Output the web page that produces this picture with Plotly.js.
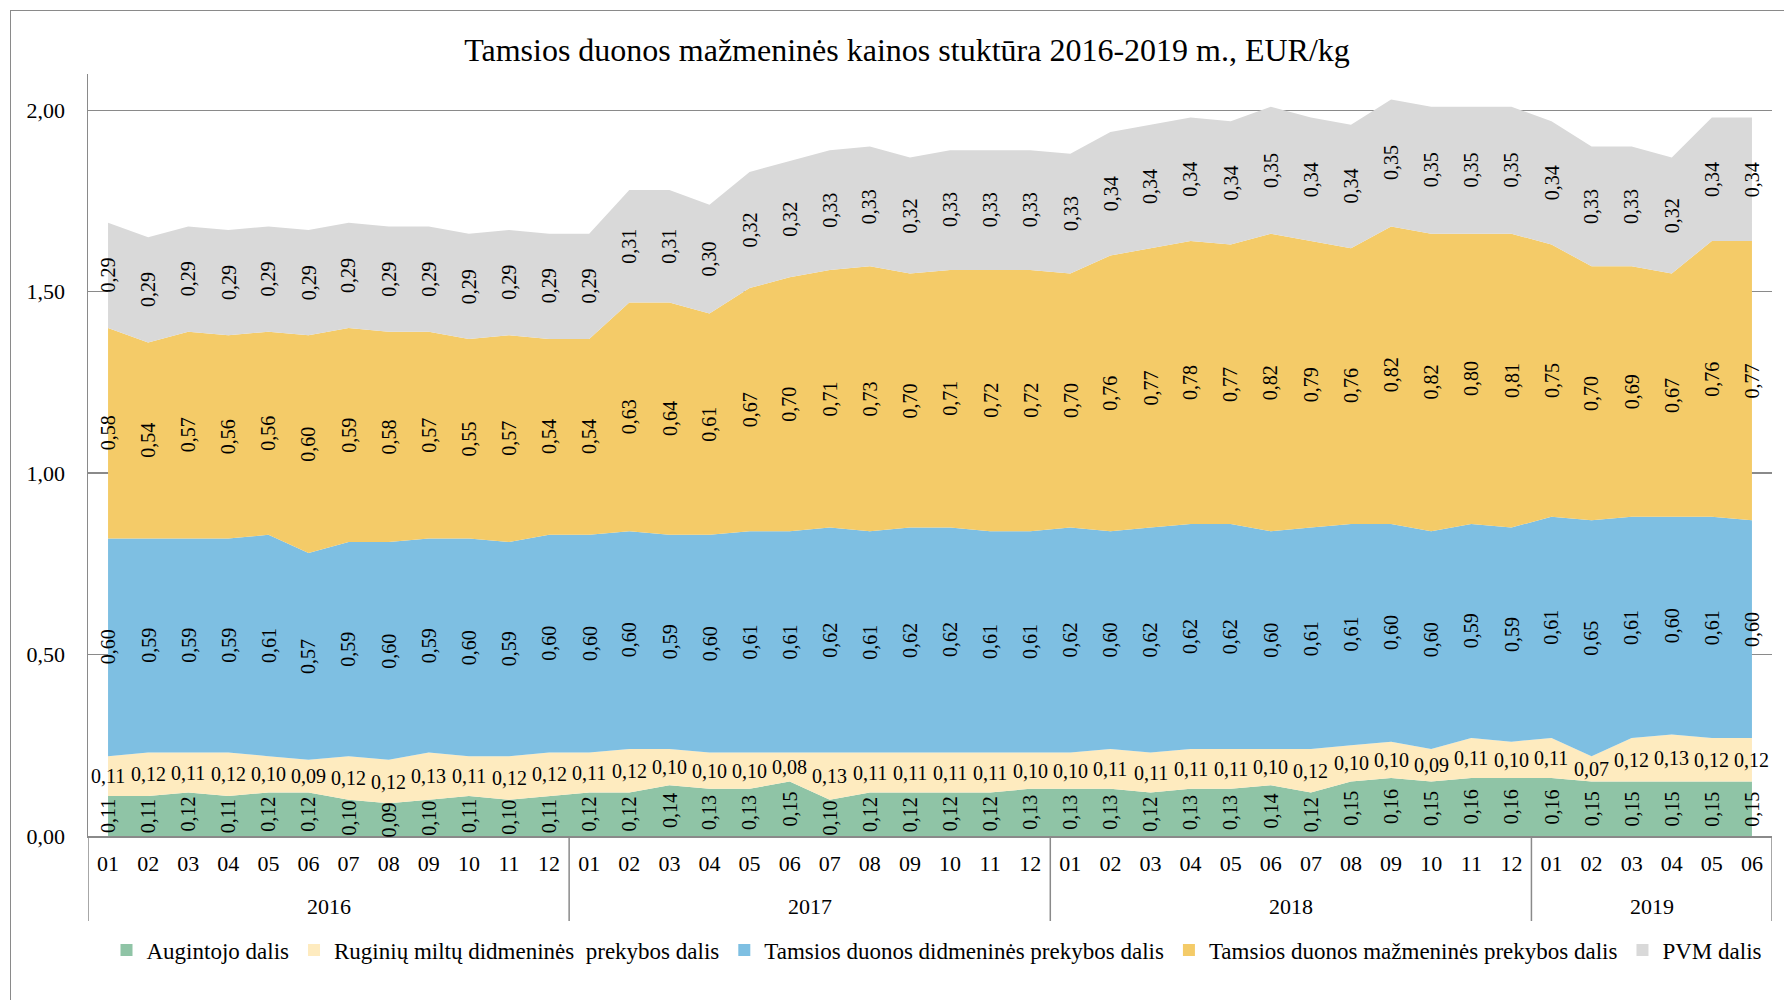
<!DOCTYPE html>
<html><head><meta charset="utf-8">
<script src="https://cdn.plot.ly/plotly-3.0.1.min.js"></script>
<style>
html,body{margin:0;padding:0;background:#fff;overflow:hidden;}
#frame{position:absolute;left:10px;top:10px;width:1800px;height:1010px;border:1.5px solid #8a8a8a;}
#chart{position:absolute;left:0;top:0;width:1784px;height:1000px;}
</style></head>
<body><div id="frame"></div><div id="chart"></div>
<script>
const monthLabels = ['01','02','03','04','05','06','07','08','09','10','11','12',
  '01','02','03','04','05','06','07','08','09','10','11','12',
  '01','02','03','04','05','06','07','08','09','10','11','12',
  '01','02','03','04','05','06'];
const yearLabels = ['2016','2017','2018','2019'];
const yearCounts = [12,12,12,6];

const seriesNames = ['Augintojo dalis','Ruginių miltų didmeninės\u00a0 prekybos dalis',
  'Tamsios duonos didmeninės prekybos dalis','Tamsios duonos mažmeninės prekybos dalis','PVM dalis'];
const seriesColors = ['#8FC4A6','#FEEBBF','#7EBFE2','#F4CB68','#D9D9D9'];

const augintojo = [0.11,0.11,0.12,0.11,0.12,0.12,0.10,0.09,0.10,0.11,0.10,0.11,
  0.12,0.12,0.14,0.13,0.13,0.15,0.10,0.12,0.12,0.12,0.12,0.13,
  0.13,0.13,0.12,0.13,0.13,0.14,0.12,0.15,0.16,0.15,0.16,0.16,
  0.16,0.15,0.15,0.15,0.15,0.15];
const ruginiu = [0.11,0.12,0.11,0.12,0.10,0.09,0.12,0.12,0.13,0.11,0.12,0.12,
  0.11,0.12,0.10,0.10,0.10,0.08,0.13,0.11,0.11,0.11,0.11,0.10,
  0.10,0.11,0.11,0.11,0.11,0.10,0.12,0.10,0.10,0.09,0.11,0.10,
  0.11,0.07,0.12,0.13,0.12,0.12];
const didmenines = [0.60,0.59,0.59,0.59,0.61,0.57,0.59,0.60,0.59,0.60,0.59,0.60,
  0.60,0.60,0.59,0.60,0.61,0.61,0.62,0.61,0.62,0.62,0.61,0.61,
  0.62,0.60,0.62,0.62,0.62,0.60,0.61,0.61,0.60,0.60,0.59,0.59,
  0.61,0.65,0.61,0.60,0.61,0.60];
const mazmenines = [0.58,0.54,0.57,0.56,0.56,0.60,0.59,0.58,0.57,0.55,0.57,0.54,
  0.54,0.63,0.64,0.61,0.67,0.70,0.71,0.73,0.70,0.71,0.72,0.72,
  0.70,0.76,0.77,0.78,0.77,0.82,0.79,0.76,0.82,0.82,0.80,0.81,
  0.75,0.70,0.69,0.67,0.76,0.77];
const pvm = [0.29,0.29,0.29,0.29,0.29,0.29,0.29,0.29,0.29,0.29,0.29,0.29,
  0.29,0.31,0.31,0.30,0.32,0.32,0.33,0.33,0.32,0.33,0.33,0.33,
  0.33,0.34,0.34,0.34,0.34,0.35,0.34,0.34,0.35,0.35,0.35,0.35,
  0.34,0.33,0.33,0.32,0.34,0.34];

const allSeries = [augintojo, ruginiu, didmenines, mazmenines, pvm];
const FONT = "Liberation Serif, Times New Roman, serif";
const GRAY = '#8a8a8a';
const xIdx = monthLabels.map((_, i) => i);

const traces = [];
allSeries.forEach((vals, s) => {
  traces.push({
    type: 'scatter', mode: 'lines', x: xIdx, y: vals, stackgroup: 'one',
    fillcolor: seriesColors[s], line: {width: 0, color: seriesColors[s]},
    showlegend: false, hoverinfo: 'skip', name: seriesNames[s]
  });
});
allSeries.forEach((vals, s) => {
  traces.push({
    type: 'scatter', mode: 'markers', x: [null], y: [null], name: seriesNames[s],
    marker: {symbol: 'square', size: 12, color: seriesColors[s]}, showlegend: true
  });
});

const fmt = v => v.toFixed(2).replace('.', ',');
const annotations = [];
const base = xIdx.map(() => 0);
allSeries.forEach((vals, s) => {
  vals.forEach((v, i) => {
    annotations.push({
      x: i, y: base[i] + v / 2, xref: 'x', yref: 'y', text: fmt(v), showarrow: false,
      textangle: s === 1 ? 0 : -90, font: {family: FONT, size: 20, color: '#000'}
    });
    base[i] += v;
  });
});

const plotH = 836 - 74;
const shapes = [];
let start = -0.5;
const bounds = [start];
yearCounts.forEach((c, k) => {
  annotations.push({
    x: start + c / 2, y: -(907 - 836) / plotH, xref: 'x', yref: 'paper', text: yearLabels[k],
    showarrow: false, yanchor: 'middle', font: {family: FONT, size: 22, color: '#000'}
  });
  start += c;
  bounds.push(start);
});
bounds.forEach(b => {
  shapes.push({type: 'line', xref: 'x', yref: 'paper', x0: b, x1: b, y0: 0, y1: -(921 - 836) / plotH,
    line: {color: GRAY, width: 1.5}});
});

const layout = {
  width: 1784, height: 1000,
  margin: {l: 88, r: 12, t: 74, b: 164},
  paper_bgcolor: 'rgba(0,0,0,0)', plot_bgcolor: 'rgba(0,0,0,0)',
  separators: ', ',
  font: {family: FONT, size: 22, color: '#000'},
  title: {text: 'Tamsios duonos mažmeninės kainos stuktūra 2016-2019 m., EUR/kg',
    x: 907 / 1784, xref: 'container', xanchor: 'center', y: 1 - 50 / 1000, yref: 'container', yanchor: 'middle',
    font: {family: FONT, size: 32, color: '#000'}},
  xaxis: {range: [-0.5, 41.5], tickvals: xIdx, ticktext: monthLabels, showgrid: false, zeroline: false,
    showline: true, linecolor: GRAY, linewidth: 1.5, ticks: '', ticklabelstandoff: 7,
    tickfont: {family: FONT, size: 22, color: '#000'}},
  yaxis: {range: [0, 2.1], dtick: 0.5, tick0: 0, tickformat: '.2f', showgrid: true, gridcolor: GRAY, gridwidth: 1.5,
    zeroline: false, showline: true, linecolor: GRAY, linewidth: 1.5, ticks: '', ticklabelstandoff: 17,
    tickfont: {family: FONT, size: 22, color: '#000'}},
  legend: {orientation: 'h', x: (937 - 88) / 1684, xanchor: 'center', y: -(950 - 836) / plotH, yanchor: 'middle',
    font: {family: FONT, size: 23, color: '#000'}, itemwidth: 30, traceorder: 'normal'},
  annotations: annotations, shapes: shapes, showlegend: true
};

Plotly.newPlot('chart', traces, layout, {staticPlot: true, displayModeBar: false});
</script>
</body></html>
